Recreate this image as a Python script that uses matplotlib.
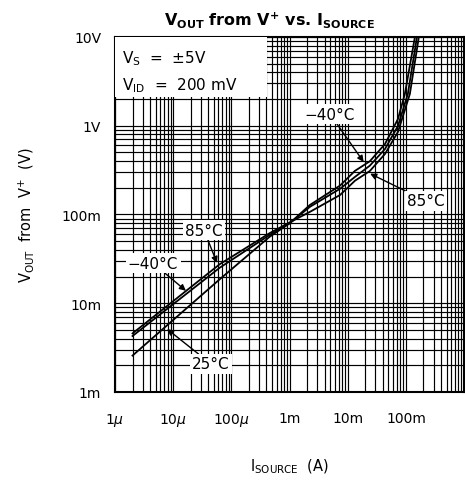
import numpy as np
import matplotlib
matplotlib.use("Agg")
import matplotlib.pyplot as plt
from matplotlib.patches import Rectangle

# ----------------------------
# Data (A, V)
# ----------------------------
i_m40 = [2.0e-6, 6.3e-5, 4.57e-4, 1.0e-3, 2.24e-3, 7.4e-3, 1.33e-2, 2.4e-2, 4.37e-2, 7.3e-2, 9.6e-2, 0.143]
v_m40 = [4.27e-3, 0.0251, 0.0589, 0.0794, 0.128, 0.212, 0.310, 0.398, 0.622, 1.19, 2.28, 10.0]

i_25 = [2.0e-6, 6.3e-5, 4.57e-4, 1.0e-3, 2.24e-3, 7.4e-3, 1.33e-2, 2.4e-2, 4.37e-2, 7.3e-2, 0.108, 0.155]
v_25 = [2.57e-3, 0.0186, 0.0562, 0.0794, 0.122, 0.195, 0.265, 0.355, 0.547, 0.993, 2.28, 10.0]

i_85 = [2.0e-6, 6.3e-5, 4.57e-4, 1.0e-3, 2.24e-3, 7.4e-3, 1.33e-2, 2.4e-2, 4.37e-2, 7.3e-2, 0.117, 0.167]
v_85 = [4.57e-3, 0.0275, 0.0617, 0.0813, 0.107, 0.166, 0.240, 0.309, 0.481, 0.851, 2.28, 10.0]

x_ticks = [1e-6, 1e-5, 1e-4, 1e-3, 1e-2, 1e-1]
x_labels = [r"1$\mu$", r"10$\mu$", r"100$\mu$", "1m", "10m", "100m"]
y_ticks = [1e-3, 1e-2, 1e-1, 1, 10]
y_labels = ["1m", "10m", "100m", "1V", "10V"]


def on_curve(ii, vv, x):
    # point on a drawn curve, used only to aim the label arrows
    return x, 10 ** np.interp(np.log10(x), np.log10(ii), np.log10(vv))


# ----------------------------
# Figure
# ----------------------------
fig = plt.figure(figsize=(4.65, 4.81), dpi=100)
ax = fig.add_axes([0.2473, 0.183, 0.7507, 0.738])
ax.set_xscale("log")
ax.set_yscale("log")
ax.set_xlim(1e-6, 1)
ax.set_ylim(1e-3, 10)

ax.grid(True, which="both", color="black", lw=0.85)
ax.set_axisbelow(True)
for s in ax.spines.values():
    s.set_linewidth(1.5)

ax.set_xticks(x_ticks)
ax.set_xticklabels(x_labels, fontsize=10)
ax.set_yticks(y_ticks)
ax.set_yticklabels(y_labels, fontsize=10)
ax.tick_params(which="both", length=0)
ax.tick_params(axis="x", pad=14)
ax.tick_params(axis="y", pad=10)

for ii, vv in [(i_m40, v_m40), (i_25, v_25), (i_85, v_85)]:
    ax.plot(ii, vv, color="black", lw=1.3, zorder=3)

# condition box
ax.add_patch(Rectangle((0, 0.831), 0.435, 0.169, transform=ax.transAxes,
                       facecolor="white", edgecolor="none", zorder=4))
ax.text(0.02, 0.942, r"V$_{\mathregular{S}}$  =  ±5V", transform=ax.transAxes,
        fontsize=11, va="center", zorder=5)
ax.text(0.02, 0.866, r"V$_{\mathregular{ID}}$  =  200 mV", transform=ax.transAxes,
        fontsize=11, va="center", zorder=5)

# temperature labels
labels = [
    ("−40°C", (0.616, 0.783), on_curve(i_m40, v_m40, 2.0e-2)),
    ("85°C", (0.891, 0.538), on_curve(i_85, v_85, 2.2e-2)),
    ("85°C", (0.255, 0.456), on_curve(i_85, v_85, 5.9e-5)),
    ("−40°C", (0.109, 0.363), on_curve(i_m40, v_m40, 1.8e-5)),
    ("25°C", (0.275, 0.079), on_curve(i_25, v_25, 7.2e-6)),
]
for txt, pos, tip in labels:
    ax.annotate(txt, xy=tip, xycoords="data", xytext=pos, textcoords="axes fraction",
                fontsize=11, ha="center", va="center", zorder=6,
                bbox=dict(boxstyle="square,pad=0.15", fc="white", ec="none"),
                arrowprops=dict(arrowstyle="-|>", color="black", lw=1.0,
                                mutation_scale=9, shrinkA=0, shrinkB=2))

fig.text(0.58, 0.958, r"V$_{\mathbf{OUT}}$ from V$^{\mathbf{+}}$ vs. I$_{\mathbf{SOURCE}}$",
         fontsize=11.5, fontweight="bold", ha="center", va="center")
ax.set_xlabel(r"I$_{\mathregular{SOURCE}}$  (A)", fontsize=10.5, labelpad=20)
ax.set_ylabel(r"V$_{\mathregular{OUT}}$  from  V$^{+}$  (V)", fontsize=10.5, labelpad=18)

fig.savefig("out.png", dpi=100)
